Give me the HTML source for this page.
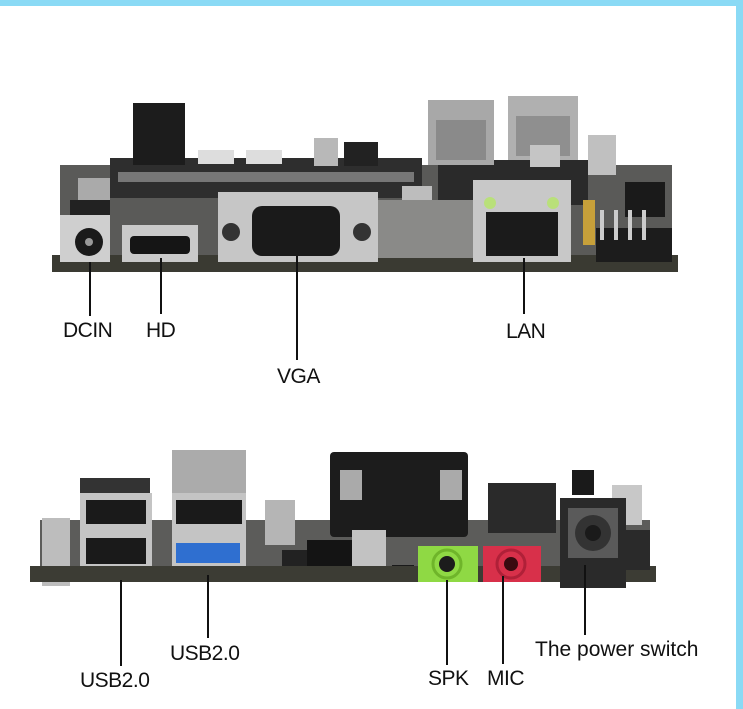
<!DOCTYPE html>
<html><head><meta charset="utf-8"><style>
html,body{margin:0;padding:0;background:#fff}
body{width:743px;height:709px;position:relative;overflow:hidden;font-family:"Liberation Sans",Arial,sans-serif}
.a{position:absolute}
.t{position:absolute;font-size:21px;color:#111;line-height:1;letter-spacing:-0.5px}
.l{position:absolute;width:1.5px;background:#111}
</style></head><body>
<div class="a" style="left:0;top:0;width:743px;height:6px;background:#8adaf5"></div>
<div class="a" style="left:736px;top:0;width:7px;height:709px;background:#8adaf5"></div>

<svg class="a" style="left:0;top:0" width="743" height="709">
<rect x="60" y="165" width="612" height="95" fill="#5a5a58"/>
<rect x="110" y="158" width="312" height="40" fill="#2e2e2e"/>
<rect x="118" y="172" width="296" height="10" fill="#777"/>
<rect x="438" y="160" width="150" height="45" fill="#2a2a2a"/>
<rect x="133" y="103" width="52" height="62" fill="#1c1c1c"/>
<rect x="198" y="150" width="36" height="14" fill="#ddd"/>
<rect x="246" y="150" width="36" height="14" fill="#ddd"/>
<rect x="314" y="138" width="24" height="28" fill="#b8b8b8"/>
<rect x="344" y="142" width="34" height="24" fill="#222"/>
<rect x="402" y="186" width="30" height="46" fill="#bdbdbd"/>
<rect x="428" y="100" width="66" height="65" fill="#a8a8a8"/>
<rect x="436" y="120" width="50" height="40" fill="#8a8a8a"/>
<rect x="508" y="96" width="70" height="64" fill="#b0b0b0"/>
<rect x="516" y="116" width="54" height="40" fill="#8f8f8f"/>
<rect x="530" y="145" width="30" height="22" fill="#c5c5c5"/>
<rect x="588" y="135" width="28" height="40" fill="#c0c0c0"/>
<rect x="78" y="178" width="32" height="30" fill="#aaa"/>
<rect x="70" y="200" width="40" height="20" fill="#222"/>
<rect x="52" y="255" width="626" height="17" fill="#3a3a32"/>
<rect x="60" y="215" width="50" height="47" fill="#cfcfcf"/>
<circle cx="89" cy="242" r="14" fill="#1a1a1a"/>
<circle cx="89" cy="242" r="4" fill="#999"/>
<rect x="122" y="225" width="76" height="37" fill="#c9c9c9"/>
<rect x="130" y="236" width="60" height="18" rx="4" fill="#151515"/>
<rect x="218" y="192" width="160" height="70" fill="#c6c6c6"/>
<rect x="252" y="206" width="88" height="50" rx="10" fill="#1a1a1a"/>
<circle cx="231" cy="232" r="9" fill="#333"/>
<circle cx="362" cy="232" r="9" fill="#333"/>
<rect x="378" y="200" width="95" height="58" fill="#8a8a88"/>
<rect x="473" y="180" width="98" height="82" fill="#c8c8c8"/>
<rect x="486" y="212" width="72" height="44" fill="#1b1b1b"/>
<circle cx="490" cy="203" r="6" fill="#b9e07a"/>
<circle cx="553" cy="203" r="6" fill="#b9e07a"/>
<rect x="583" y="200" width="12" height="45" fill="#c7a03a"/>
<rect x="625" y="182" width="40" height="35" fill="#1a1a1a"/>
<rect x="596" y="228" width="76" height="34" fill="#1c1c1c"/>
<rect x="600" y="210" width="4" height="30" fill="#ccc"/><rect x="614" y="210" width="4" height="30" fill="#ccc"/><rect x="628" y="210" width="4" height="30" fill="#ccc"/><rect x="642" y="210" width="4" height="30" fill="#ccc"/>

<rect x="40" y="520" width="610" height="50" fill="#5c5c5a"/>
<rect x="330" y="452" width="138" height="85" rx="4" fill="#1c1c1c"/>
<rect x="340" y="470" width="22" height="30" fill="#aaa"/>
<rect x="440" y="470" width="22" height="30" fill="#aaa"/>
<rect x="488" y="483" width="68" height="50" fill="#2a2a2a"/>
<rect x="172" y="450" width="74" height="45" fill="#ababab"/>
<rect x="80" y="478" width="70" height="20" fill="#333"/>
<rect x="80" y="493" width="72" height="78" fill="#c4c4c4"/>
<rect x="86" y="500" width="60" height="24" fill="#1a1a1a"/>
<rect x="86" y="538" width="60" height="26" fill="#1a1a1a"/>
<rect x="172" y="493" width="74" height="78" fill="#c4c4c4"/>
<rect x="176" y="500" width="66" height="24" fill="#1a1a1a"/>
<rect x="176" y="543" width="64" height="20" fill="#2f6fd0"/>
<rect x="42" y="518" width="28" height="68" fill="#bdbdbd"/>
<rect x="265" y="500" width="30" height="45" fill="#b5b5b5"/>
<rect x="282" y="550" width="28" height="25" fill="#222"/>
<rect x="307" y="540" width="45" height="42" fill="#141414"/>
<rect x="352" y="530" width="34" height="46" fill="#c2c2c2"/>
<rect x="392" y="565" width="22" height="16" fill="#1a1a1a"/>
<rect x="30" y="566" width="626" height="16" fill="#3c3c34"/>
<rect x="418" y="546" width="60" height="36" fill="#8fd944"/>
<circle cx="447" cy="564" r="14" fill="#8fd944" stroke="#6fb52a" stroke-width="3"/>
<circle cx="447" cy="564" r="8" fill="#1c1c1c"/>
<rect x="483" y="546" width="58" height="36" fill="#d8304a"/>
<circle cx="511" cy="564" r="14" fill="#d8304a" stroke="#b02038" stroke-width="3"/>
<circle cx="511" cy="564" r="7" fill="#3a0a10"/>
<rect x="572" y="470" width="22" height="25" fill="#1a1a1a"/>
<rect x="612" y="485" width="30" height="40" fill="#c8c8c8"/>
<rect x="560" y="498" width="66" height="90" fill="#2a2a2a"/>
<rect x="568" y="508" width="50" height="50" fill="#5a5a5a"/>
<circle cx="593" cy="533" r="18" fill="#333"/>
<circle cx="593" cy="533" r="8" fill="#1a1a1a"/>
<rect x="626" y="530" width="24" height="40" fill="#2a2a2a"/>
</svg>

<div class="l" style="left:89px;top:262px;height:54px"></div>
<div class="l" style="left:160px;top:258px;height:56px"></div>
<div class="l" style="left:296px;top:256px;height:104px"></div>
<div class="l" style="left:523px;top:258px;height:56px"></div>
<div class="t" style="left:63px;top:320px">DCIN</div>
<div class="t" style="left:146px;top:320px">HD</div>
<div class="t" style="left:277px;top:366px">VGA</div>
<div class="t" style="left:506px;top:321px">LAN</div>

<div class="l" style="left:120px;top:580px;height:86px"></div>
<div class="l" style="left:207px;top:575px;height:63px"></div>
<div class="l" style="left:446px;top:580px;height:85px"></div>
<div class="l" style="left:502px;top:576px;height:88px"></div>
<div class="l" style="left:584px;top:565px;height:70px"></div>
<div class="t" style="left:80px;top:670px">USB2.0</div>
<div class="t" style="left:170px;top:643px">USB2.0</div>
<div class="t" style="left:428px;top:668px">SPK</div>
<div class="t" style="left:487px;top:668px">MIC</div>
<div class="t" style="left:535px;top:639px;letter-spacing:0">The power switch</div>
</body></html>
